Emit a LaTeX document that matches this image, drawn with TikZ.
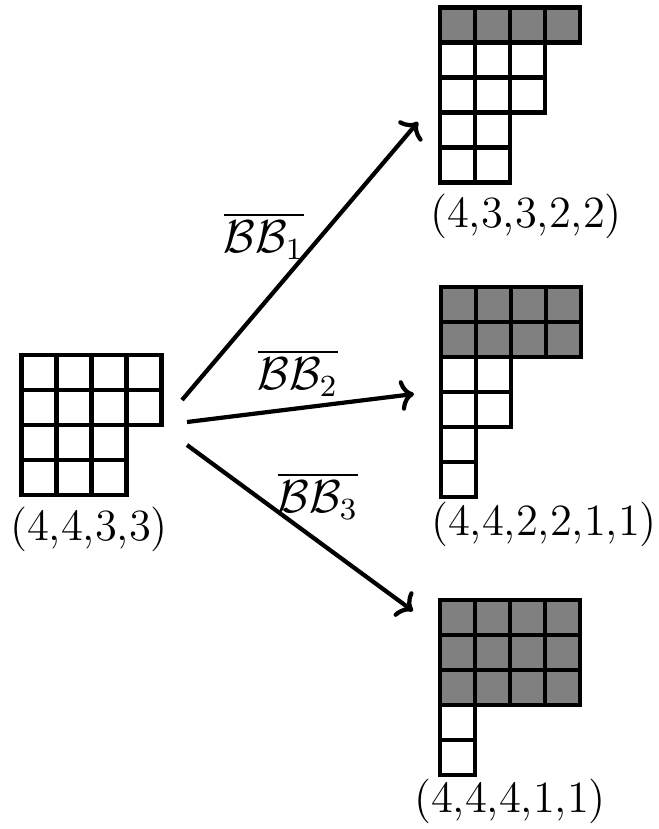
\documentclass[tikz,border=0pt]{standalone}
\usepackage{amsmath}
\usepackage{amssymb}
\usepackage{tikz}
\usetikzlibrary{arrows.meta}

\tikzset{
  cell/.style={draw=black, line width=1.2pt, fill=white},
  shaded/.style={cell, fill=gray},
  move/.style={-{Computer Modern Rightarrow[length=3.6pt,width=8pt]}, line width=1.1pt},
  part/.style={inner sep=0.75pt, font=\fontsize{11.6}{13}\selectfont},
  mlabel/.style={inner sep=0.75pt, font=\fontsize{12}{14}\selectfont},
}

\begin{document}
\begin{tikzpicture}[x=0.26pt,y=0.26pt,yscale=-1,xscale=1]
        \useasboundingbox (0,0) rectangle (658,829);

        % starting partition (4,4,3,3)
        \foreach \r/\n in {0/4,1/4,2/3,3/3}
          \foreach \c in {1,...,\n}
            \draw [cell] ({21.7+35*(\c-1)},{355+35*\r}) rectangle ++(35,35);
        \node [part] (p0) at (89,529) {(4,4,3,3)};

        % first box: one row shaded
        \foreach \r/\n/\s in {0/4/shaded,1/3/cell,2/3/cell,3/2/cell,4/2/cell}
          \foreach \c in {1,...,\n}
            \draw [\s] ({440+35*(\c-1)},{7.3+35*\r}) rectangle ++(35,35);
        \node [part] (p1) at (526,216) {(4,3,3,2,2)};

        % second box: two rows shaded
        \foreach \r/\n/\s in {0/4/shaded,1/4/shaded,2/2/cell,3/2/cell,4/1/cell,5/1/cell}
          \foreach \c in {1,...,\n}
            \draw [\s] ({441+35*(\c-1)},{287+35*\r}) rectangle ++(35,35);
        \node [part] (p2) at (544,524) {(4,4,2,2,1,1)};

        % third box: three rows shaded
        \foreach \r/\n/\s in {0/4/shaded,1/4/shaded,2/4/shaded,3/1/cell,4/1/cell}
          \foreach \c in {1,...,\n}
            \draw [\s] ({440+35*(\c-1)},{600+35*\r}) rectangle ++(35,35);
        \node [part] (p3) at (510,801) {(4,4,4,1,1)};

        % arrow ends
        \coordinate (s1) at (182,400);
        \coordinate (t1) at (418,122);
        \coordinate (s2) at (187,422);
        \coordinate (t2) at (414,394);
        \coordinate (s3) at (187,445);
        \coordinate (t3) at (413,611);

        \draw [move] (s1) -- (t1);
        \draw [move] (s2) -- (t2);
        \draw [move] (s3) -- (t3);

        % Text Node
        \node [mlabel] (m1) at (264,236) {$\overline{\mathcal{B}\mathcal{B}_{1}}$};
        % Text Node
        \node [mlabel] (m2) at (298,373) {$\overline{\mathcal{B}\mathcal{B}_{2}}$};
        % Text Node
        \node [mlabel] (m3) at (318,496) {$\overline{\mathcal{B}\mathcal{B}_{3}}$};

    \end{tikzpicture}
\end{document}
